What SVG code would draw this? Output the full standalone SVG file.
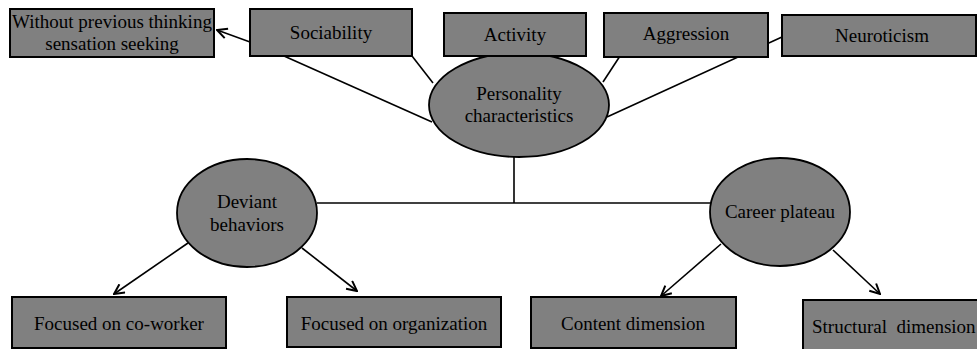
<svg xmlns="http://www.w3.org/2000/svg" width="977" height="349" viewBox="0 0 977 349">
<style>
.box{fill:#808080;stroke:#000;stroke-width:2}
.ell{fill:#808080;stroke:#000;stroke-width:1.8}
text{font-family:'Liberation Serif','DejaVu Serif',serif;font-size:19px;fill:#000;text-anchor:middle}
.c{stroke:#000;stroke-width:1.6;fill:none}
</style>
<defs>
<marker id="arr" viewBox="0 0 12 12" refX="11" refY="6" markerWidth="12" markerHeight="12" markerUnits="userSpaceOnUse" orient="auto">
<path d="M1,1 L11,6 L1,11" fill="none" stroke="#000" stroke-width="2"/>
</marker>
</defs>
<rect width="977" height="349" fill="#fff"/>
<g id="connectors">
<line class="c" x1="782" y1="37" x2="607" y2="117"/>
<line class="c" x1="284" y1="56" x2="432" y2="122"/>
<line class="c" x1="412" y1="56" x2="433" y2="83"/>
<line class="c" x1="620" y1="56" x2="603" y2="82"/>
<line class="c" x1="250" y1="42" x2="217" y2="30" marker-end="url(#arr)"/>
<line class="c" x1="514" y1="157" x2="514" y2="203"/>
<line class="c" x1="317" y1="203" x2="711" y2="203"/>
<line class="c" x1="188" y1="243" x2="114" y2="294" marker-end="url(#arr)"/>
<line class="c" x1="302" y1="248" x2="357" y2="291" marker-end="url(#arr)"/>
<line class="c" x1="721" y1="244" x2="661" y2="296" marker-end="url(#arr)"/>
<line class="c" x1="833" y1="250" x2="880" y2="294" marker-end="url(#arr)"/>
</g>
<g id="personality">
<ellipse class="ell" cx="519" cy="105" rx="90" ry="52"/>
<text font-family="Liberation Serif, serif" x="519" y="100">Personality</text>
<text font-family="Liberation Serif, serif" x="519" y="122">characteristics</text>
</g>
<g id="without">
<rect class="box" x="10" y="9" width="204" height="48"/>
<text font-family="Liberation Serif, serif" x="112" y="28">Without previous thinking</text>
<text font-family="Liberation Serif, serif" x="112" y="50">sensation seeking</text>
</g>
<g id="sociability">
<rect class="box" x="250" y="9" width="162" height="47"/>
<text font-family="Liberation Serif, serif" x="331" y="39">Sociability</text>
</g>
<g id="activity">
<rect class="box" x="444" y="13" width="142" height="43"/>
<text font-family="Liberation Serif, serif" x="515" y="41">Activity</text>
</g>
<g id="aggression">
<rect class="box" x="604" y="13" width="164" height="44"/>
<text font-family="Liberation Serif, serif" x="686" y="40">Aggression</text>
</g>
<g id="neuroticism">
<rect class="box" x="782" y="15" width="194" height="41"/>
<text font-family="Liberation Serif, serif" x="882" y="42">Neuroticism</text>
</g>
<g id="deviant">
<ellipse class="ell" cx="247" cy="213" rx="70" ry="54"/>
<text font-family="Liberation Serif, serif" x="247" y="208">Deviant</text>
<text font-family="Liberation Serif, serif" x="247" y="231">behaviors</text>
</g>
<g id="career">
<ellipse class="ell" cx="780" cy="212" rx="70" ry="54"/>
<text font-family="Liberation Serif, serif" x="780" y="218">Career plateau</text>
</g>
<g id="coworker">
<rect class="box" x="12" y="297" width="214" height="51"/>
<text font-family="Liberation Serif, serif" x="119" y="330">Focused on co-worker</text>
</g>
<g id="organization">
<rect class="box" x="287" y="297" width="214" height="50"/>
<text font-family="Liberation Serif, serif" x="394" y="330">Focused on organization</text>
</g>
<g id="content">
<rect class="box" x="531" y="297" width="205" height="51"/>
<text font-family="Liberation Serif, serif" x="633" y="330">Content dimension</text>
</g>
<g id="structural">
<rect class="box" x="803" y="300" width="176" height="51"/>
<text font-family="Liberation Serif, serif" x="812" y="333" style="text-anchor:start">Structural&#160; dimension</text>
</g>
</svg>
